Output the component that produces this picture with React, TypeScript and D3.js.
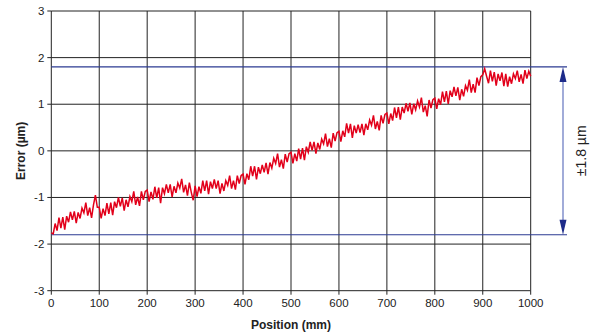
import React from "react";
import * as d3 from "d3";

const X_TICKS = [0, 100, 200, 300, 400, 500, 600, 700, 800, 900, 1000];
const Y_TICKS = [-3, -2, -1, 0, 1, 2, 3];
const TOLERANCE = 1.8;
const POSITION_STEP = 4;
const ERROR_VALUES = [
  -1.76, -1.78, -1.56, -1.71, -1.43,
  -1.66, -1.42, -1.69, -1.40, -1.53,
  -1.31, -1.48, -1.30, -1.55, -1.32,
  -1.45, -1.23, -1.33, -1.11, -1.39,
  -1.22, -1.44, -1.16, -0.95, -1.21,
  -1.21, -1.45, -1.24, -1.39, -1.12,
  -1.35, -1.11, -1.38, -1.09, -1.22,
  -1.00, -1.19, -1.01, -1.28, -1.05,
  -1.20, -0.98, -1.09, -0.87, -1.16,
  -0.99, -1.18, -0.87, -1.05, -0.87,
  -0.84, -1.09, -0.88, -1.04, -0.77,
  -1.01, -0.79, -1.12, -0.79, -0.92,
  -0.72, -0.90, -0.72, -0.99, -0.76,
  -0.90, -0.69, -0.80, -0.60, -0.89,
  -0.73, -0.96, -0.68, -0.89, -1.06,
  -0.75, -0.98, -0.77, -0.91, -0.64,
  -0.86, -0.64, -0.93, -0.66, -0.81,
  -0.61, -0.81, -0.64, -0.92, -0.70,
  -0.86, -0.64, -0.74, -0.53, -0.81,
  -0.64, -0.83, -0.53, -0.70, -0.53,
  -0.50, -0.72, -0.49, -0.62, -0.33,
  -0.54, -0.33, -0.61, -0.35, -0.49,
  -0.30, -0.46, -0.26, -0.50, -0.25,
  -0.37, -0.16, -0.27, -0.06, -0.35,
  -0.19, -0.38, -0.07, -0.24, -0.06,
  -0.03, -0.27, -0.06, -0.22, 0.05,
  -0.18, 0.06, -0.20, 0.09, -0.03,
  0.19, 0.01, 0.19, -0.06, 0.17,
  0.03, 0.25, 0.15, 0.37, 0.09,
  0.26, 0.07, 0.38, 0.21, 0.39,
  0.42, 0.20, 0.43, 0.30, 0.59,
  0.38, 0.58, 0.28, 0.54, 0.38,
  0.56, 0.39, 0.58, 0.34, 0.58,
  0.45, 0.66, 0.55, 0.76, 0.47,
  0.63, 0.44, 0.76, 0.59, 0.78,
  0.81, 0.58, 0.80, 0.65, 0.93,
  0.71, 0.94, 0.67, 0.94, 0.81,
  1.02, 0.85, 1.03, 0.78, 1.01,
  0.88, 1.07, 0.94, 1.14, 0.83,
  0.97, 0.74, 1.09, 0.92, 1.10,
  1.13, 0.90, 1.12, 0.99, 1.27,
  1.05, 1.28, 1.01, 1.29, 1.16,
  1.37, 1.18, 1.36, 1.09, 1.32,
  1.17, 1.40, 1.30, 1.53, 1.25,
  1.43, 1.25, 1.57, 1.40, 1.59,
  1.63, 1.76, 1.60, 1.45, 1.72,
  1.49, 1.69, 1.40, 1.65, 1.50,
  1.68, 1.39, 1.65, 1.38, 1.59,
  1.44, 1.65, 1.55, 1.72, 1.48,
  1.64, 1.44, 1.73, 1.55, 1.71,
  1.60,
];

const W = 595;
const H = 334;
const PL = 51.3;
const PR = 530.7;
const PT = 11;
const PB = 290.7;
const FONT = "'Liberation Sans', Arial, sans-serif";

export default function App() {
  const x = d3.scaleLinear().domain([0, 1000]).range([PL, PR]);
  const y = d3.scaleLinear().domain([-3, 3]).range([PB, PT]);
  const data = ERROR_VALUES.map((v, i) => [i * POSITION_STEP, v] as [number, number]);
  const line = d3
    .line<[number, number]>()
    .x((d) => x(d[0]))
    .y((d) => y(d[1]));

  const arrowX = 563;
  const yTop = y(TOLERANCE);
  const yBot = y(-TOLERANCE);
  const blueEnd = 567;

  return (
    <svg
      width={W}
      height={H}
      style={{ position: "absolute", left: 0, top: 0, background: "#fff" }}
      fontFamily={FONT}
    >
      {Y_TICKS.map((t) => (
        <line key={"h" + t} x1={PL} x2={PR} y1={y(t)} y2={y(t)} stroke="#222" strokeWidth={1} />
      ))}
      {X_TICKS.map((t) => (
        <line key={"v" + t} x1={x(t)} x2={x(t)} y1={PT} y2={PB} stroke="#222" strokeWidth={1} />
      ))}
      {Y_TICKS.map((t) => (
        <line key={"yt" + t} x1={PL - 4} x2={PL} y1={y(t)} y2={y(t)} stroke="#222" />
      ))}
      {X_TICKS.map((t) => (
        <line key={"xt" + t} x1={x(t)} x2={x(t)} y1={PB} y2={PB + 4} stroke="#222" />
      ))}
      {Y_TICKS.map((t) => (
        <text key={"yl" + t} x={PL - 7} y={y(t) + 4} textAnchor="end" fontSize={11.5} fill="#222">
          {t}
        </text>
      ))}
      {X_TICKS.map((t) => (
        <text key={"xl" + t} x={x(t)} y={PB + 16} textAnchor="middle" fontSize={11.5} fill="#222">
          {t}
        </text>
      ))}
      <line x1={PL} x2={blueEnd} y1={yTop} y2={yTop} stroke="#2b3a92" strokeWidth={1.2} />
      <line x1={PL} x2={blueEnd} y1={yBot} y2={yBot} stroke="#2b3a92" strokeWidth={1.2} />
      <path d={line(data) ?? ""} fill="none" stroke="#e2001a" strokeWidth={1.5} strokeLinejoin="miter" />
      <line x1={arrowX} x2={arrowX} y1={yTop + 8} y2={yBot - 8} stroke="#6f7fc4" strokeWidth={1.3} />
      <path
        d={`M${arrowX},${yTop} L${arrowX - 3.5},${yTop + 15} L${arrowX + 3.5},${yTop + 15} Z`}
        fill="#1d2b8a"
      />
      <path
        d={`M${arrowX},${yBot} L${arrowX - 3.5},${yBot - 15} L${arrowX + 3.5},${yBot - 15} Z`}
        fill="#1d2b8a"
      />
      <text
        transform={`translate(${586},${(yTop + yBot) / 2}) rotate(-90)`}
        textAnchor="middle"
        fontSize={14}
        fill="#222"
      >
        ±1.8 µm
      </text>
      <text
        transform={`translate(${25},${(PT + PB) / 2}) rotate(-90)`}
        textAnchor="middle"
        fontSize={12}
        fontWeight="bold"
        fill="#222"
      >
        Error (µm)
      </text>
      <text x={(PL + PR) / 2} y={329} textAnchor="middle" fontSize={12} fontWeight="bold" fill="#222">
        Position (mm)
      </text>
    </svg>
  );
}
